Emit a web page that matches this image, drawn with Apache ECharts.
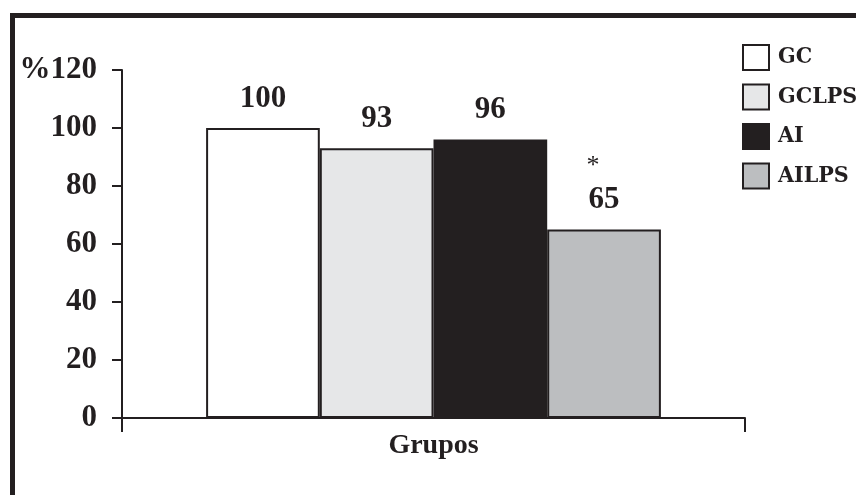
<!DOCTYPE html>
<html>
<head>
<meta charset="utf-8">
<script src="https://cdn.jsdelivr.net/npm/echarts@6/dist/echarts.min.js"></script>
<style>
  html, body { margin: 0; padding: 0; background: #ffffff; }
  #wrap { position: relative; width: 856px; height: 495px; overflow: hidden; }
  #frame {
    position: absolute; left: 10px; top: 13px; right: -10px; bottom: -10px;
    border-left: 5px solid #231f20; border-top: 5px solid #231f20;
  }
  #chart { position: absolute; left: 0; top: 0; width: 856px; height: 495px; }
</style>
</head>
<body>
<div id="wrap">
  <div id="frame"></div>
  <div id="chart"></div>
</div>
<script>
// Groups and their relative values (%)
const categories = ['Grupos'];
const groupNames = ['GC', 'GCLPS', 'AI', 'AILPS'];
const groupValues = [100, 93, 96, 65];
const significance = ['', '', '', '*'];
const yTicks = [0, 20, 40, 60, 80, 100, 120];

const ink = '#231f20';
const fills = ['#ffffff', '#e6e7e8', '#231f20', '#bcbec0'];
const serif = '"Liberation Serif", "Times New Roman", serif';
const condensed = '"DejaVu Serif Condensed", "Liberation Serif", serif';

const chart = echarts.init(document.getElementById('chart'), null, { renderer: 'canvas' });

const series = groupNames.map((name, i) => ({
  name: name,
  type: 'bar',
  data: [groupValues[i]],
  barGap: '0%',
  barCategoryGap: '27%',
  itemStyle: { color: fills[i], borderColor: ink, borderWidth: 2 },
  label: {
    show: true,
    position: 'top',
    distance: 14,
    color: ink,
    formatter: (p) => significance[i] ? '{s|' + significance[i] + '}\n{v|' + p.value + '}' : '{v|' + p.value + '}',
    rich: {
      s: { fontFamily: serif, fontSize: 26, fontWeight: 'normal', color: ink, lineHeight: 36, align: 'center', padding: [0, 22, 0, 0] },
      v: { fontFamily: serif, fontSize: 31, fontWeight: 'bold', color: ink, align: 'center' }
    }
  },
  emphasis: { disabled: true },
  animation: false
}));

chart.setOption({
  animation: false,
  backgroundColor: 'transparent',
  grid: { left: 122, right: 111, top: 70, bottom: 77, containLabel: false },
  legend: {
    orient: 'vertical',
    left: 742,
    top: 44,
    padding: 0,
    itemWidth: 26,
    itemHeight: 25,
    itemGap: 12.5,
    icon: 'rect',
    selectedMode: false,
    data: groupNames.map((n, i) => ({
      name: n,
      itemStyle: { color: fills[i], borderColor: ink, borderWidth: 2 }
    })),
    textStyle: { fontFamily: condensed, fontWeight: 'bold', fontSize: 23, color: ink, padding: [0, 0, 0, 4] }
  },
  xAxis: {
    type: 'category',
    data: categories,
    axisLine: { show: true, lineStyle: { color: ink, width: 2 } },
    axisTick: { show: true, length: 14, lineStyle: { color: ink, width: 2 } },
    axisLabel: { margin: 14, color: ink, fontFamily: serif, fontWeight: 'bold', fontSize: 28 },
    splitLine: { show: false }
  },
  yAxis: {
    type: 'value',
    min: yTicks[0],
    max: yTicks[yTicks.length - 1],
    interval: yTicks[1] - yTicks[0],
    axisLine: { show: true, lineStyle: { color: ink, width: 2 } },
    axisTick: { show: true, length: 10, lineStyle: { color: ink, width: 2 } },
    axisLabel: {
      margin: 25,
      color: ink,
      fontFamily: serif,
      fontWeight: 'bold',
      fontSize: 31,
      formatter: (v) => v === yTicks[yTicks.length - 1] ? '%' + v : String(v)
    },
    splitLine: { show: false }
  },
  series: series
});
</script>
</body>
</html>
